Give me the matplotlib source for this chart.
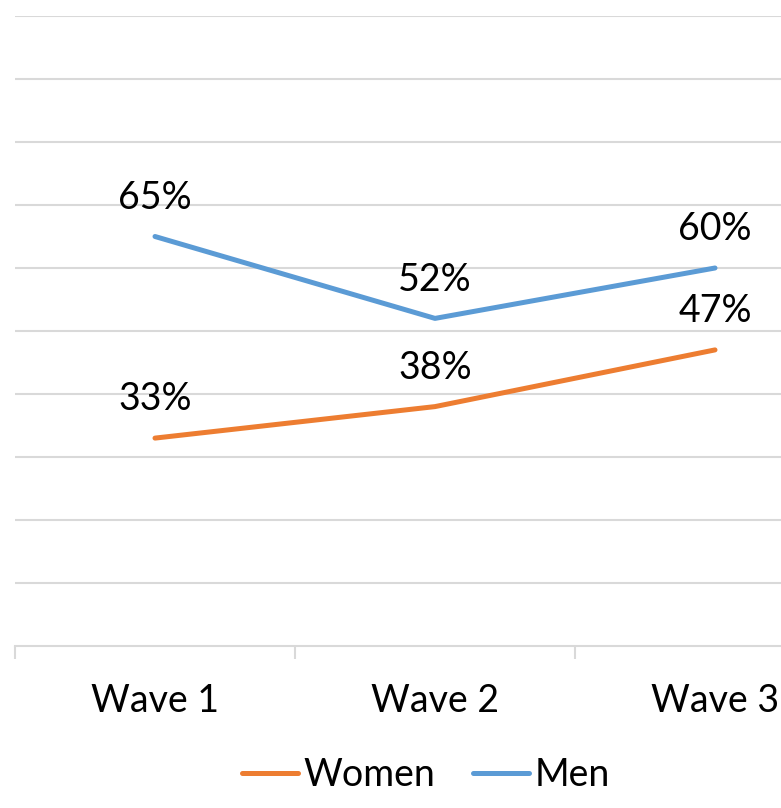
import matplotlib
matplotlib.use("Agg")
import matplotlib.pyplot as plt
from matplotlib.lines import Line2D
import numpy as np

plt.rcParams['font.family'] = ['Lato', 'DejaVu Sans']

waves = ["Wave 1", "Wave 2", "Wave 3"]
women = [33, 38, 47]
men = [65, 52, 60]

ORANGE = "#ED7D31"
BLUE = "#5B9BD5"
GRID = "#D9D9D9"
FS = 27

fig = plt.figure(figsize=(7.81, 8.08), dpi=100)
W, H = 781, 808
ax = fig.add_axes([15 / W, 162 / H, 840 / W, 630 / H])
ax.set_xlim(-0.5, 2.5)
ax.set_ylim(0, 100)

x = np.arange(len(waves))
for vals, col in [(women, ORANGE), (men, BLUE)]:
    ax.plot(x, vals, color=col, lw=3.6, solid_capstyle="round",
            solid_joinstyle="round", zorder=3)
    for xi, v in zip(x, vals):
        ax.annotate(f"{v}%", (xi, v), xytext=(0, 20), textcoords="offset points",
                    ha="center", va="baseline", fontsize=FS, color="black", zorder=4)

ax.set_yticks(np.arange(10, 101, 10))
ax.yaxis.grid(True, color=GRID, lw=1.5)
ax.tick_params(axis="y", left=False, labelleft=False)
for s in ["left", "right", "top"]:
    ax.spines[s].set_visible(False)
ax.spines["bottom"].set_color(GRID)
ax.spines["bottom"].set_linewidth(1.5)

ax.set_xticks(x)
ax.set_xticklabels(waves, fontsize=FS)
ax.tick_params(axis="x", which="major", length=0, pad=27)
ax.set_xticks([-0.5, 0.5, 1.5, 2.5], minor=True)
ax.tick_params(axis="x", which="minor", length=9, width=1.5, color=GRID)

handles = [Line2D([], [], color=ORANGE, lw=3.6, solid_capstyle="round"),
           Line2D([], [], color=BLUE, lw=3.6, solid_capstyle="round")]
fig.legend(handles, ["Women", "Men"], loc="center", bbox_to_anchor=(426 / W, 1 - 775 / H),
           ncol=2, frameon=False, fontsize=FS, handlelength=1.5, handletextpad=0.15,
           columnspacing=1.0, borderaxespad=0)

fig.savefig("out.png", dpi=100)
